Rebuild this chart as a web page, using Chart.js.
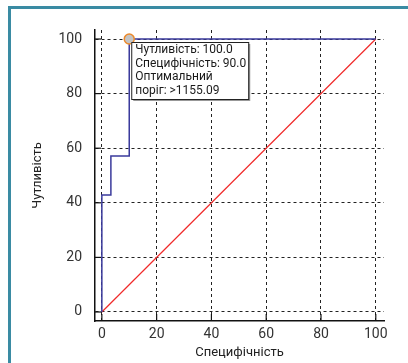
<!DOCTYPE html>
<html>
<head>
<meta charset="utf-8">
<script src="https://cdn.jsdelivr.net/npm/chart.js@4"></script>
<style>
  html, body { margin: 0; padding: 0; background: #fff; overflow: hidden; }
  #wrap { position: relative; width: 408px; height: 363px; overflow: hidden; }
  #rocChart { display: block; }
  #frame {
    position: absolute; left: 8px; top: 6px; width: 400px; height: 357px;
    border-top: 3px solid #3a8ba3; border-left: 3px solid #3a8ba3;
    pointer-events: none;
  }
</style>
</head>
<body>
<div id="wrap">
  <canvas id="rocChart" width="408" height="363"></canvas>
  <div id="frame"></div>
</div>
<script>
// ROC curve points (100 - specificity, sensitivity)
const rocX = [0, 0, 3.3, 3.3, 10, 10, 100];
const rocY = [0, 42.9, 42.9, 57.1, 57.1, 100, 100];
// reference diagonal
const diagX = [0, 100];
const diagY = [0, 100];
// optimal cut-off point
const optX = [10];
const optY = [100];
const tickValues = [0, 20, 40, 60, 80, 100];
const xTitle = 'Специфічність';
const yTitle = 'Чутливість';
const noteLines = ['Чутливість: 100.0', 'Специфічність: 90.0', 'Оптимальний', 'поріг: >1155.09'];

const toPoints = (xs, ys) => xs.map((x, i) => ({ x: x, y: ys[i] }));

// small inward tick marks on both axes
const innerTicks = {
    id: 'innerTicks',
    afterDraw(chart) {
        const { ctx, chartArea, scales } = chart;
        ctx.save();
        ctx.strokeStyle = '#111';
        ctx.lineWidth = 1.2;
        tickValues.forEach(v => {
            const px = scales.x.getPixelForValue(v);
            ctx.beginPath();
            ctx.moveTo(px, chartArea.bottom);
            ctx.lineTo(px, chartArea.bottom - 7);
            ctx.stroke();
            const py = scales.y.getPixelForValue(v);
            ctx.beginPath();
            ctx.moveTo(chartArea.left, py);
            ctx.lineTo(chartArea.left + 6, py);
            ctx.stroke();
        });
        ctx.restore();
    }
};

// label box next to the optimal point
const noteBox = {
    id: 'noteBox',
    afterDatasetsDraw(chart) {
        const { ctx, scales } = chart;
        const x = scales.x.getPixelForValue(optX[0]) + 2;
        const y = scales.y.getPixelForValue(optY[0]) + 3;
        const w = 117, h = 57;
        ctx.save();
        ctx.fillStyle = '#9a9a9a';
        ctx.fillRect(x + 2, y + 2, w, h);
        ctx.fillStyle = '#fff';
        ctx.fillRect(x, y, w, h);
        ctx.strokeStyle = '#222';
        ctx.lineWidth = 1;
        ctx.strokeRect(x + 0.5, y + 0.5, w, h);
        ctx.fillStyle = '#1a1a1a';
        ctx.font = '12px Roboto';
        ctx.textBaseline = 'middle';
        noteLines.forEach((t, i) => ctx.fillText(t, x + 4, y + 8 + i * 13.5));
        ctx.restore();
    }
};

const ctx = document.getElementById('rocChart').getContext('2d');
new Chart(ctx, {
    type: 'scatter',
    data: {
        datasets: [
            {
                label: 'Optimal',
                data: toPoints(optX, optY),
                pointRadius: 5,
                pointBackgroundColor: '#c4c4c4',
                pointBorderColor: '#ec8a2c',
                pointBorderWidth: 1.5
            },
            {
                label: 'ROC',
                data: toPoints(rocX, rocY),
                showLine: true,
                borderColor: '#3a3a9c',
                borderWidth: 1.5,
                pointRadius: 0
            },
            {
                label: 'Diagonal',
                data: toPoints(diagX, diagY),
                showLine: true,
                borderColor: '#f02a2a',
                borderWidth: 1.2,
                pointRadius: 0
            }
        ]
    },
    options: {
        responsive: false,
        devicePixelRatio: 1,
        animation: false,
        layout: { padding: { left: 30, top: 30, right: 24, bottom: 2 } },
        plugins: { legend: { display: false }, tooltip: { enabled: false } },
        scales: {
            x: {
                type: 'linear',
                min: -2.5,
                max: 103,
                afterBuildTicks: s => { s.ticks = tickValues.map(v => ({ value: v })); },
                afterFit: s => { s.height = 40; },
                grid: { color: '#222', lineWidth: 1, drawTicks: false },
                border: { display: true, color: '#111', width: 1.5, dash: [3, 3] },
                ticks: { font: { family: 'Roboto', size: 14 }, color: '#333', padding: 5, maxRotation: 0 },
                title: { display: true, text: xTitle, font: { family: 'Roboto', size: 13 }, color: '#222', padding: 0 }
            },
            y: {
                type: 'linear',
                min: -3.3,
                max: 103.3,
                afterBuildTicks: s => { s.ticks = tickValues.map(v => ({ value: v })); },
                afterFit: s => { s.width = 65; },
                grid: { color: '#222', lineWidth: 1, drawTicks: false },
                border: { display: true, color: '#111', width: 1.5, dash: [3, 3] },
                ticks: { font: { family: 'Roboto', size: 14 }, color: '#333', padding: 13 },
                title: { display: true, text: yTitle, font: { family: 'Roboto', size: 13 }, color: '#222', padding: 0 }
            }
        }
    },
    plugins: [innerTicks, noteBox]
});
</script>
</body>
</html>
